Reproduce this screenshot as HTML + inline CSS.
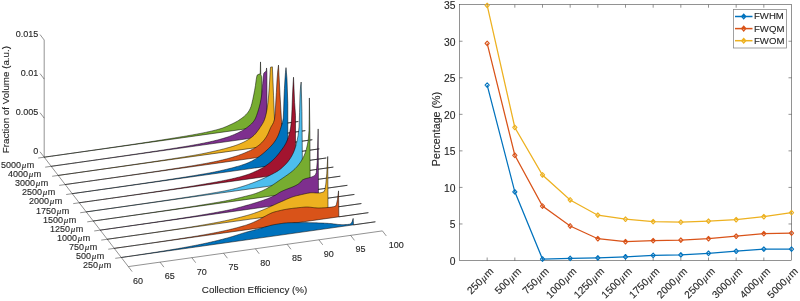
<!DOCTYPE html>
<html><head><meta charset="utf-8"><style>
html,body{margin:0;padding:0;background:#fff;width:800px;height:301px;overflow:hidden}
svg{position:absolute;left:0;top:0;will-change:transform}
text{font-family:"Liberation Sans", sans-serif;fill:#262626;stroke:#262626;stroke-width:0.12px}
.tk{font-size:9px}
.lb{font-size:9.8px}
.tr{font-size:10.3px}
.mu{font-family:"Liberation Serif", serif;font-style:italic}
.ax{stroke:#262626;stroke-width:0.5;fill:none}
</style></head><body>
<svg width="800" height="301" viewBox="0 0 800 301">
<line x1="44.20" y1="157.20" x2="44.20" y2="40.00" class="ax"/>
<line x1="44.20" y1="157.20" x2="40.00" y2="151.73" class="ax"/>
<text x="38.20" y="153.70" text-anchor="end" class="tk">0</text>
<line x1="44.20" y1="118.13" x2="40.00" y2="112.66" class="ax"/>
<text x="38.20" y="114.63" text-anchor="end" class="tk">0.005</text>
<line x1="44.20" y1="79.07" x2="40.00" y2="73.60" class="ax"/>
<text x="38.20" y="75.57" text-anchor="end" class="tk">0.01</text>
<line x1="44.20" y1="40.00" x2="40.00" y2="34.53" class="ax"/>
<text x="38.20" y="36.50" text-anchor="end" class="tk">0.015</text>
<line x1="44.20" y1="157.20" x2="128.30" y2="266.60" class="ax"/>
<line x1="128.30" y1="266.60" x2="382.42" y2="230.90" class="ax"/>
<line x1="128.30" y1="266.60" x2="132.15" y2="271.62" class="ax"/>
<text x="133.10" y="283.60" class="tk">60</text>
<line x1="160.06" y1="262.14" x2="163.92" y2="267.16" class="ax"/>
<text x="164.86" y="279.14" class="tk">65</text>
<line x1="191.83" y1="257.68" x2="195.68" y2="262.69" class="ax"/>
<text x="196.63" y="274.68" class="tk">70</text>
<line x1="223.59" y1="253.22" x2="227.45" y2="258.23" class="ax"/>
<text x="228.39" y="270.22" class="tk">75</text>
<line x1="255.36" y1="248.75" x2="259.21" y2="253.77" class="ax"/>
<text x="260.16" y="265.75" class="tk">80</text>
<line x1="287.12" y1="244.29" x2="290.98" y2="249.31" class="ax"/>
<text x="291.92" y="261.29" class="tk">85</text>
<line x1="318.89" y1="239.83" x2="322.74" y2="244.84" class="ax"/>
<text x="323.69" y="256.83" class="tk">90</text>
<line x1="350.65" y1="235.37" x2="354.51" y2="240.38" class="ax"/>
<text x="355.45" y="252.37" class="tk">95</text>
<line x1="382.42" y1="230.90" x2="386.27" y2="235.92" class="ax"/>
<text x="388.82" y="247.90" class="tk">100</text>
<line x1="44.20" y1="157.20" x2="38.16" y2="158.05" class="ax"/>
<text x="34.20" y="168.00" text-anchor="end" class="tk">5000<tspan class="mu" dx="0.7">μ</tspan><tspan dx="0.5">m</tspan></text>
<line x1="51.21" y1="166.32" x2="45.17" y2="167.16" class="ax"/>
<text x="41.21" y="177.12" text-anchor="end" class="tk">4000<tspan class="mu" dx="0.7">μ</tspan><tspan dx="0.5">m</tspan></text>
<line x1="58.22" y1="175.43" x2="52.18" y2="176.28" class="ax"/>
<text x="48.22" y="186.23" text-anchor="end" class="tk">3000<tspan class="mu" dx="0.7">μ</tspan><tspan dx="0.5">m</tspan></text>
<line x1="65.22" y1="184.55" x2="59.19" y2="185.40" class="ax"/>
<text x="55.22" y="195.35" text-anchor="end" class="tk">2500<tspan class="mu" dx="0.7">μ</tspan><tspan dx="0.5">m</tspan></text>
<line x1="72.23" y1="193.67" x2="66.20" y2="194.52" class="ax"/>
<text x="62.23" y="204.47" text-anchor="end" class="tk">2000<tspan class="mu" dx="0.7">μ</tspan><tspan dx="0.5">m</tspan></text>
<line x1="79.24" y1="202.78" x2="73.20" y2="203.63" class="ax"/>
<text x="69.24" y="213.59" text-anchor="end" class="tk">1750<tspan class="mu" dx="0.7">μ</tspan><tspan dx="0.5">m</tspan></text>
<line x1="86.25" y1="211.90" x2="80.21" y2="212.75" class="ax"/>
<text x="76.25" y="222.70" text-anchor="end" class="tk">1500<tspan class="mu" dx="0.7">μ</tspan><tspan dx="0.5">m</tspan></text>
<line x1="93.26" y1="221.02" x2="87.22" y2="221.87" class="ax"/>
<text x="83.26" y="231.82" text-anchor="end" class="tk">1250<tspan class="mu" dx="0.7">μ</tspan><tspan dx="0.5">m</tspan></text>
<line x1="100.26" y1="230.14" x2="94.23" y2="230.98" class="ax"/>
<text x="90.26" y="240.94" text-anchor="end" class="tk">1000<tspan class="mu" dx="0.7">μ</tspan><tspan dx="0.5">m</tspan></text>
<line x1="107.27" y1="239.25" x2="101.24" y2="240.10" class="ax"/>
<text x="97.27" y="250.05" text-anchor="end" class="tk">750<tspan class="mu" dx="0.7">μ</tspan><tspan dx="0.5">m</tspan></text>
<line x1="114.28" y1="248.37" x2="108.24" y2="249.22" class="ax"/>
<text x="104.28" y="259.17" text-anchor="end" class="tk">500<tspan class="mu" dx="0.7">μ</tspan><tspan dx="0.5">m</tspan></text>
<line x1="121.29" y1="257.49" x2="115.25" y2="258.33" class="ax"/>
<text x="111.29" y="268.29" text-anchor="end" class="tk">250<tspan class="mu" dx="0.7">μ</tspan><tspan dx="0.5">m</tspan></text>
<polygon points="44.20,157.18 45.00,157.07 45.81,156.95 46.61,156.84 47.42,156.72 48.22,156.61 49.03,156.50 49.83,156.38 50.63,156.27 51.44,156.15 52.24,156.04 53.05,155.92 53.85,155.81 54.65,155.70 55.46,155.58 56.26,155.47 57.07,155.35 57.87,155.24 58.68,155.12 59.48,155.01 60.28,154.90 61.09,154.78 61.89,154.67 62.70,154.55 63.50,154.44 64.30,154.32 65.11,154.21 65.91,154.09 66.72,153.98 67.52,153.86 68.33,153.75 69.13,153.63 69.93,153.52 70.74,153.40 71.54,153.29 72.35,153.17 73.15,153.06 73.95,152.94 74.76,152.83 75.56,152.71 76.37,152.60 77.17,152.48 77.98,152.37 78.78,152.25 79.58,152.14 80.39,152.02 81.19,151.91 82.00,151.79 82.80,151.67 83.60,151.56 84.41,151.44 85.21,151.33 86.02,151.21 86.82,151.10 87.63,150.98 88.43,150.86 89.23,150.75 90.04,150.63 90.84,150.52 91.65,150.40 92.45,150.29 93.25,150.17 94.06,150.05 94.86,149.94 95.67,149.82 96.47,149.71 97.28,149.59 98.08,149.47 98.88,149.36 99.69,149.24 100.49,149.12 101.30,149.01 102.10,148.89 102.90,148.77 103.71,148.66 104.51,148.54 105.32,148.42 106.12,148.31 106.93,148.19 107.73,148.07 108.53,147.96 109.34,147.84 110.14,147.72 110.95,147.61 111.75,147.49 112.56,147.37 113.36,147.26 114.17,147.14 114.97,147.02 115.78,146.90 116.58,146.78 117.39,146.67 118.19,146.55 119.00,146.43 119.80,146.31 120.61,146.19 121.41,146.08 122.21,145.96 123.02,145.84 123.82,145.72 124.63,145.60 125.43,145.48 126.24,145.36 127.04,145.24 127.85,145.12 128.65,145.01 129.46,144.89 130.26,144.77 131.07,144.65 131.87,144.53 132.68,144.41 133.48,144.29 134.29,144.17 135.09,144.05 135.89,143.92 136.70,143.80 137.50,143.68 138.31,143.56 139.11,143.44 139.92,143.32 140.72,143.20 141.53,143.08 142.33,142.95 143.14,142.83 143.94,142.71 144.75,142.59 145.55,142.47 146.36,142.34 147.16,142.22 147.97,142.10 148.77,141.97 149.58,141.85 150.38,141.73 151.18,141.60 151.99,141.48 152.79,141.36 153.60,141.23 154.40,141.11 155.21,140.98 156.01,140.86 156.82,140.73 157.62,140.61 158.43,140.48 159.23,140.36 160.04,140.23 160.84,140.10 161.65,139.98 162.45,139.85 163.26,139.72 164.06,139.60 164.86,139.47 165.67,139.34 166.47,139.21 167.28,139.09 168.08,138.96 168.89,138.83 169.69,138.70 170.50,138.57 171.30,138.44 172.11,138.31 172.91,138.18 173.72,138.05 174.52,137.92 175.33,137.79 176.13,137.66 176.94,137.53 177.74,137.40 178.54,137.27 179.35,137.13 180.15,137.00 180.97,136.86 181.80,136.73 182.62,136.59 183.44,136.46 184.26,136.32 185.08,136.18 185.90,136.04 186.72,135.90 187.54,135.76 188.36,135.62 189.18,135.48 190.00,135.33 190.82,135.19 191.64,135.05 192.46,134.90 193.28,134.75 194.10,134.61 194.92,134.46 195.75,134.31 196.57,134.15 197.39,134.00 198.21,133.85 199.03,133.69 199.85,133.53 200.66,133.38 201.47,133.22 202.29,133.06 203.10,132.89 203.91,132.73 204.73,132.56 205.54,132.39 206.35,132.22 207.17,132.05 207.98,131.87 208.79,131.69 209.61,131.51 210.42,131.32 211.23,131.13 212.05,130.94 212.86,130.75 213.67,130.55 214.49,130.34 215.30,130.13 216.11,129.92 216.93,129.70 217.74,129.48 218.55,129.25 219.36,129.02 220.18,128.78 221.00,128.52 221.82,128.25 222.64,127.97 223.46,127.67 224.28,127.35 225.10,127.02 225.92,126.68 226.74,126.33 227.56,125.97 228.38,125.60 229.20,125.22 230.03,124.84 230.85,124.47 231.67,124.08 232.49,123.70 233.31,123.30 234.13,122.90 234.95,122.48 235.77,122.05 236.59,121.60 237.41,121.13 238.23,120.64 239.05,120.12 239.87,119.56 240.72,118.96 241.57,118.36 242.41,117.73 243.26,117.08 244.11,116.39 244.95,115.65 245.80,114.83 246.65,113.93 247.50,112.92 248.34,111.78 249.19,110.46 250.04,108.93 250.96,106.64 251.88,103.41 252.80,99.40 253.72,94.97 254.58,90.49 255.44,85.52 256.23,79.49 257.03,75.30 258.08,74.58 259.14,74.11 260.20,73.85 260.52,61.91 260.84,74.77 261.73,76.64 261.79,126.63 298.32,121.50 44.20,157.20" fill="#77AC30" stroke="#000" stroke-width="0.5" stroke-linejoin="round"/>
<polygon points="51.21,166.30 52.01,166.18 52.82,166.07 53.62,165.95 54.42,165.84 55.23,165.73 56.03,165.61 56.84,165.50 57.64,165.38 58.45,165.27 59.25,165.16 60.05,165.04 60.86,164.93 61.66,164.81 62.47,164.70 63.27,164.58 64.07,164.47 64.88,164.36 65.68,164.24 66.49,164.13 67.29,164.01 68.10,163.90 68.90,163.78 69.70,163.67 70.51,163.55 71.31,163.44 72.12,163.32 72.92,163.21 73.72,163.09 74.53,162.98 75.33,162.86 76.14,162.75 76.94,162.63 77.75,162.52 78.55,162.40 79.35,162.29 80.16,162.17 80.96,162.06 81.77,161.94 82.57,161.83 83.38,161.71 84.18,161.60 84.98,161.48 85.79,161.37 86.59,161.25 87.40,161.14 88.20,161.02 89.00,160.91 89.81,160.79 90.61,160.68 91.42,160.56 92.22,160.44 93.03,160.33 93.83,160.21 94.63,160.10 95.44,159.98 96.24,159.87 97.05,159.75 97.85,159.63 98.65,159.52 99.46,159.40 100.26,159.29 101.07,159.17 101.87,159.05 102.68,158.94 103.48,158.82 104.28,158.71 105.09,158.59 105.89,158.47 106.70,158.36 107.50,158.24 108.30,158.12 109.11,158.01 109.91,157.89 110.72,157.77 111.52,157.66 112.33,157.54 113.13,157.43 113.93,157.31 114.74,157.19 115.54,157.08 116.34,156.96 117.15,156.84 117.95,156.73 118.75,156.61 119.56,156.49 120.36,156.37 121.16,156.26 121.97,156.14 122.77,156.02 123.57,155.91 124.38,155.79 125.18,155.67 125.98,155.55 126.79,155.44 127.59,155.32 128.39,155.20 129.20,155.08 130.00,154.96 130.80,154.85 131.61,154.73 132.41,154.61 133.21,154.49 134.02,154.37 134.82,154.26 135.62,154.14 136.43,154.02 137.23,153.90 138.03,153.78 138.84,153.66 139.64,153.54 140.44,153.42 141.25,153.30 142.05,153.18 142.85,153.06 143.66,152.94 144.46,152.82 145.26,152.70 146.06,152.58 146.87,152.46 147.67,152.34 148.47,152.22 149.28,152.10 150.08,151.98 150.88,151.86 151.69,151.74 152.49,151.62 153.29,151.50 154.10,151.37 154.90,151.25 155.70,151.13 156.51,151.01 157.31,150.89 158.11,150.76 158.92,150.64 159.72,150.52 160.52,150.39 161.33,150.27 162.13,150.15 162.93,150.02 163.74,149.90 164.54,149.78 165.34,149.65 166.15,149.53 166.95,149.40 167.75,149.28 168.56,149.15 169.36,149.02 170.16,148.90 170.97,148.77 171.77,148.65 172.57,148.52 173.38,148.39 174.18,148.26 174.98,148.14 175.79,148.01 176.59,147.88 177.39,147.75 178.19,147.62 179.00,147.49 179.80,147.36 180.60,147.23 181.41,147.10 182.21,146.97 183.01,146.84 183.82,146.71 184.62,146.57 185.44,146.44 186.27,146.30 187.09,146.16 187.92,146.02 188.74,145.88 189.56,145.74 190.39,145.60 191.21,145.45 192.03,145.31 192.86,145.16 193.68,145.01 194.50,144.86 195.33,144.71 196.15,144.56 196.97,144.41 197.80,144.25 198.62,144.09 199.44,143.94 200.27,143.78 201.09,143.62 201.92,143.46 202.74,143.29 203.56,143.13 204.39,142.96 205.21,142.79 206.03,142.62 206.86,142.45 207.69,142.28 208.51,142.10 209.34,141.92 210.17,141.74 211.00,141.55 211.83,141.36 212.66,141.17 213.49,140.98 214.31,140.78 215.14,140.57 215.97,140.37 216.80,140.16 217.63,139.95 218.46,139.73 219.29,139.51 220.11,139.28 220.94,139.05 221.77,138.82 222.60,138.58 223.43,138.34 224.26,138.09 225.09,137.83 225.92,137.57 226.76,137.30 227.61,137.02 228.46,136.73 229.30,136.43 230.15,136.13 231.00,135.81 231.84,135.48 232.69,135.15 233.54,134.80 234.39,134.44 235.23,134.07 236.08,133.70 236.93,133.30 237.77,132.90 238.62,132.49 239.49,132.05 240.35,131.61 241.22,131.14 242.09,130.67 242.95,130.17 243.82,129.66 244.69,129.12 245.55,128.55 246.42,127.95 247.28,127.32 248.15,126.65 248.95,126.00 249.76,125.34 250.56,124.65 251.36,123.91 252.16,123.10 252.96,122.20 253.77,121.17 254.57,120.00 255.61,118.01 256.64,115.38 257.68,112.31 258.48,109.76 259.28,106.95 260.08,103.73 260.88,99.85 261.68,95.00 262.70,83.48 263.72,73.46 264.54,72.37 265.37,71.64 266.19,71.31 266.57,67.96 266.89,72.02 267.02,136.00 305.33,130.62 51.21,166.32" fill="#7E2F8E" stroke="#000" stroke-width="0.5" stroke-linejoin="round"/>
<polygon points="58.22,175.41 59.02,175.30 59.82,175.19 60.63,175.07 61.43,174.96 62.24,174.84 63.04,174.73 63.85,174.62 64.65,174.50 65.45,174.39 66.26,174.27 67.06,174.16 67.87,174.04 68.67,173.93 69.47,173.82 70.28,173.70 71.08,173.59 71.89,173.47 72.69,173.36 73.50,173.24 74.30,173.13 75.10,173.01 75.91,172.90 76.71,172.78 77.52,172.67 78.32,172.56 79.12,172.44 79.93,172.33 80.73,172.21 81.54,172.10 82.34,171.98 83.15,171.87 83.95,171.75 84.75,171.64 85.56,171.52 86.36,171.41 87.17,171.29 87.97,171.18 88.77,171.06 89.58,170.95 90.38,170.83 91.19,170.72 91.99,170.60 92.80,170.48 93.60,170.37 94.40,170.25 95.21,170.14 96.01,170.02 96.82,169.91 97.62,169.79 98.42,169.68 99.23,169.56 100.03,169.45 100.84,169.33 101.64,169.21 102.45,169.10 103.25,168.98 104.05,168.87 104.86,168.75 105.66,168.63 106.47,168.52 107.27,168.40 108.07,168.29 108.88,168.17 109.68,168.05 110.49,167.94 111.29,167.82 112.10,167.71 112.90,167.59 113.70,167.47 114.51,167.36 115.31,167.24 116.12,167.12 116.92,167.01 117.73,166.89 118.53,166.78 119.33,166.66 120.14,166.54 120.94,166.43 121.75,166.31 122.55,166.19 123.35,166.08 124.16,165.96 124.96,165.84 125.76,165.73 126.57,165.61 127.37,165.49 128.17,165.37 128.98,165.26 129.78,165.14 130.58,165.02 131.39,164.91 132.19,164.79 132.99,164.67 133.79,164.55 134.60,164.44 135.40,164.32 136.20,164.20 137.01,164.08 137.81,163.97 138.61,163.85 139.42,163.73 140.22,163.61 141.02,163.49 141.83,163.38 142.63,163.26 143.43,163.14 144.24,163.02 145.04,162.90 145.84,162.78 146.65,162.66 147.45,162.55 148.25,162.43 149.06,162.31 149.86,162.19 150.66,162.07 151.47,161.95 152.27,161.83 153.07,161.71 153.88,161.59 154.68,161.47 155.48,161.35 156.29,161.23 157.09,161.11 157.89,160.99 158.70,160.87 159.50,160.75 160.30,160.62 161.11,160.50 161.91,160.38 162.71,160.26 163.52,160.14 164.32,160.02 165.12,159.89 165.92,159.77 166.73,159.65 167.53,159.52 168.33,159.40 169.14,159.28 169.94,159.15 170.74,159.03 171.55,158.91 172.35,158.78 173.15,158.66 173.96,158.53 174.76,158.41 175.56,158.28 176.37,158.16 177.17,158.03 177.97,157.90 178.78,157.78 179.58,157.65 180.38,157.52 181.19,157.39 181.99,157.26 182.79,157.14 183.60,157.01 184.40,156.88 185.20,156.75 186.01,156.62 186.81,156.49 187.61,156.36 188.42,156.22 189.22,156.09 190.02,155.96 190.83,155.83 191.63,155.69 192.45,155.55 193.27,155.41 194.09,155.27 194.91,155.13 195.73,154.98 196.55,154.84 197.37,154.69 198.19,154.54 199.01,154.38 199.83,154.23 200.65,154.07 201.47,153.91 202.29,153.75 203.11,153.59 203.93,153.42 204.74,153.26 205.56,153.09 206.38,152.91 207.20,152.74 208.02,152.56 208.84,152.39 209.66,152.21 210.48,152.03 211.30,151.84 212.12,151.66 212.94,151.47 213.76,151.28 214.58,151.10 215.40,150.91 216.22,150.71 217.04,150.52 217.87,150.33 218.70,150.13 219.53,149.93 220.36,149.73 221.18,149.53 222.01,149.32 222.84,149.12 223.67,148.91 224.50,148.70 225.33,148.48 226.16,148.26 226.98,148.04 227.81,147.82 228.64,147.59 229.47,147.35 230.30,147.11 231.13,146.87 231.96,146.61 232.79,146.36 233.61,146.09 234.44,145.82 235.27,145.54 236.10,145.24 236.91,144.95 237.72,144.65 238.53,144.34 239.34,144.02 240.15,143.69 240.96,143.34 241.78,142.99 242.59,142.62 243.40,142.24 244.21,141.84 245.02,141.43 245.83,141.00 246.64,140.55 247.45,140.08 248.26,139.59 249.07,139.07 249.88,138.53 250.69,137.96 251.50,137.36 252.32,136.72 253.13,136.05 253.98,135.28 254.84,134.41 255.70,133.46 256.56,132.42 257.41,131.31 258.27,130.12 259.13,128.88 259.99,127.59 260.90,126.22 261.82,124.84 262.73,123.35 263.65,121.61 264.56,119.45 265.45,116.65 266.34,112.93 267.23,108.07 267.96,102.52 268.69,95.01 269.20,88.04 269.71,80.02 270.12,72.18 270.53,67.21 271.45,67.00 272.38,66.85 273.52,95.19 274.54,120.04 274.85,145.00 312.34,139.73 58.22,175.43" fill="#EDB120" stroke="#000" stroke-width="0.5" stroke-linejoin="round"/>
<polygon points="65.22,184.53 66.03,184.42 66.83,184.30 67.64,184.19 68.44,184.08 69.24,183.96 70.05,183.85 70.85,183.73 71.66,183.62 72.46,183.51 73.27,183.39 74.07,183.28 74.87,183.16 75.68,183.05 76.48,182.93 77.29,182.82 78.09,182.71 78.90,182.59 79.70,182.48 80.50,182.36 81.31,182.25 82.11,182.13 82.92,182.02 83.72,181.90 84.52,181.79 85.33,181.67 86.13,181.56 86.94,181.44 87.74,181.33 88.55,181.22 89.35,181.10 90.15,180.99 90.96,180.87 91.76,180.76 92.57,180.64 93.37,180.53 94.17,180.41 94.98,180.30 95.78,180.18 96.59,180.07 97.39,179.95 98.20,179.83 99.00,179.72 99.80,179.60 100.61,179.49 101.41,179.37 102.22,179.26 103.02,179.14 103.82,179.03 104.63,178.91 105.43,178.80 106.24,178.68 107.04,178.56 107.85,178.45 108.65,178.33 109.45,178.22 110.26,178.10 111.06,177.99 111.87,177.87 112.67,177.75 113.47,177.64 114.28,177.52 115.08,177.41 115.89,177.29 116.69,177.17 117.50,177.06 118.30,176.94 119.10,176.82 119.91,176.71 120.71,176.59 121.52,176.48 122.32,176.36 123.12,176.24 123.93,176.13 124.73,176.01 125.54,175.89 126.34,175.78 127.15,175.66 127.95,175.54 128.75,175.43 129.56,175.31 130.36,175.19 131.16,175.08 131.97,174.96 132.77,174.84 133.57,174.72 134.38,174.61 135.18,174.49 135.98,174.37 136.79,174.26 137.59,174.14 138.39,174.02 139.20,173.90 140.00,173.79 140.80,173.67 141.61,173.55 142.41,173.43 143.21,173.31 144.02,173.20 144.82,173.08 145.62,172.96 146.43,172.84 147.23,172.72 148.03,172.60 148.84,172.48 149.64,172.37 150.44,172.25 151.25,172.13 152.05,172.01 152.85,171.89 153.65,171.77 154.46,171.65 155.26,171.53 156.06,171.41 156.87,171.29 157.67,171.17 158.47,171.05 159.28,170.93 160.08,170.81 160.88,170.69 161.69,170.56 162.49,170.44 163.29,170.32 164.10,170.20 164.90,170.08 165.70,169.96 166.51,169.83 167.31,169.71 168.11,169.59 168.92,169.47 169.72,169.34 170.52,169.22 171.33,169.10 172.13,168.97 172.93,168.85 173.74,168.72 174.54,168.60 175.34,168.48 176.15,168.35 176.95,168.22 177.75,168.10 178.56,167.97 179.36,167.85 180.16,167.72 180.97,167.59 181.77,167.47 182.57,167.34 183.38,167.21 184.18,167.08 184.98,166.96 185.78,166.83 186.59,166.70 187.39,166.57 188.19,166.44 189.00,166.31 189.80,166.18 190.60,166.05 191.41,165.91 192.21,165.78 193.01,165.65 193.82,165.52 194.62,165.38 195.42,165.25 196.23,165.12 197.03,164.98 197.83,164.84 198.64,164.71 199.46,164.57 200.28,164.43 201.09,164.28 201.91,164.14 202.73,163.99 203.55,163.85 204.37,163.70 205.19,163.55 206.01,163.40 206.83,163.24 207.65,163.09 208.47,162.93 209.29,162.77 210.11,162.61 210.93,162.45 211.74,162.28 212.56,162.11 213.38,161.94 214.20,161.77 215.02,161.60 215.84,161.42 216.66,161.24 217.48,161.06 218.30,160.88 219.12,160.69 219.94,160.51 220.76,160.32 221.57,160.12 222.39,159.93 223.21,159.73 224.03,159.53 224.85,159.32 225.67,159.11 226.49,158.90 227.31,158.69 228.13,158.48 228.95,158.26 229.77,158.04 230.60,157.81 231.43,157.57 232.27,157.33 233.10,157.08 233.94,156.82 234.77,156.56 235.60,156.29 236.44,156.02 237.27,155.74 238.11,155.45 238.94,155.15 239.77,154.85 240.61,154.54 241.44,154.22 242.27,153.89 243.11,153.56 243.91,153.23 244.72,152.90 245.52,152.57 246.33,152.22 247.13,151.87 247.94,151.52 248.74,151.15 249.55,150.77 250.35,150.39 251.16,149.99 251.96,149.57 252.76,149.15 253.57,148.70 254.37,148.24 255.18,147.76 255.98,147.25 256.79,146.72 257.59,146.16 258.40,145.57 259.20,144.95 260.01,144.29 260.84,143.55 261.67,142.75 262.51,141.87 263.34,140.92 264.18,139.89 265.01,138.78 265.84,137.56 266.68,136.25 267.66,134.43 268.65,132.29 269.63,129.98 270.62,127.70 271.59,125.90 272.55,124.37 273.52,122.42 274.49,119.15 275.06,113.65 275.64,104.99 276.33,92.50 277.03,80.00 277.76,70.84 278.49,65.09 280.02,94.98 281.48,119.97 282.50,139.03 283.13,153.94 319.34,148.85 65.22,184.55" fill="#D95319" stroke="#000" stroke-width="0.5" stroke-linejoin="round"/>
<polygon points="72.23,193.65 73.04,193.53 73.84,193.42 74.64,193.30 75.45,193.19 76.25,193.08 77.06,192.96 77.86,192.85 78.67,192.73 79.47,192.62 80.27,192.50 81.08,192.39 81.88,192.27 82.69,192.16 83.49,192.04 84.29,191.93 85.10,191.81 85.90,191.70 86.71,191.58 87.51,191.47 88.32,191.35 89.12,191.24 89.92,191.12 90.73,191.01 91.53,190.89 92.34,190.78 93.14,190.66 93.94,190.55 94.75,190.43 95.55,190.32 96.36,190.20 97.16,190.09 97.97,189.97 98.77,189.86 99.57,189.74 100.38,189.62 101.18,189.51 101.99,189.39 102.79,189.28 103.59,189.16 104.40,189.05 105.20,188.93 106.01,188.81 106.81,188.70 107.62,188.58 108.42,188.47 109.22,188.35 110.03,188.23 110.83,188.12 111.64,188.00 112.44,187.89 113.25,187.77 114.05,187.65 114.85,187.54 115.66,187.42 116.46,187.30 117.27,187.19 118.07,187.07 118.87,186.95 119.68,186.84 120.48,186.72 121.29,186.60 122.09,186.49 122.90,186.37 123.70,186.25 124.50,186.14 125.31,186.02 126.11,185.90 126.92,185.79 127.72,185.67 128.52,185.55 129.33,185.43 130.13,185.32 130.94,185.20 131.74,185.08 132.55,184.96 133.35,184.85 134.15,184.73 134.96,184.61 135.76,184.49 136.57,184.38 137.37,184.26 138.17,184.14 138.98,184.02 139.78,183.90 140.58,183.79 141.38,183.67 142.19,183.55 142.99,183.43 143.79,183.31 144.60,183.19 145.40,183.08 146.20,182.96 147.01,182.84 147.81,182.72 148.61,182.60 149.42,182.48 150.22,182.36 151.02,182.24 151.83,182.12 152.63,182.00 153.43,181.88 154.24,181.77 155.04,181.65 155.84,181.53 156.65,181.41 157.45,181.28 158.25,181.16 159.06,181.04 159.86,180.92 160.66,180.80 161.47,180.68 162.27,180.56 163.07,180.44 163.88,180.32 164.68,180.20 165.48,180.08 166.29,179.95 167.09,179.83 167.89,179.71 168.70,179.59 169.50,179.46 170.30,179.34 171.11,179.22 171.91,179.09 172.71,178.97 173.51,178.85 174.32,178.72 175.12,178.60 175.92,178.48 176.73,178.35 177.53,178.23 178.33,178.10 179.14,177.98 179.94,177.85 180.74,177.72 181.55,177.60 182.35,177.47 183.15,177.34 183.96,177.22 184.76,177.09 185.56,176.96 186.37,176.83 187.17,176.71 187.97,176.58 188.78,176.45 189.58,176.32 190.38,176.19 191.19,176.06 191.99,175.93 192.79,175.80 193.60,175.66 194.40,175.53 195.20,175.40 196.01,175.27 196.81,175.13 197.61,175.00 198.42,174.86 199.22,174.73 200.02,174.59 200.83,174.46 201.63,174.32 202.43,174.18 203.24,174.04 204.04,173.91 204.84,173.77 205.65,173.63 206.46,173.48 207.28,173.33 208.10,173.19 208.92,173.04 209.74,172.88 210.56,172.73 211.38,172.57 212.20,172.42 213.02,172.25 213.84,172.09 214.66,171.93 215.48,171.76 216.30,171.59 217.12,171.42 217.94,171.25 218.76,171.07 219.58,170.89 220.40,170.71 221.22,170.53 222.04,170.34 222.86,170.15 223.68,169.96 224.50,169.77 225.32,169.58 226.14,169.38 226.96,169.18 227.78,168.98 228.60,168.78 229.42,168.57 230.24,168.36 231.06,168.16 231.88,167.94 232.70,167.73 233.52,167.51 234.35,167.30 235.17,167.07 235.99,166.85 236.81,166.62 237.63,166.38 238.46,166.14 239.28,165.90 240.10,165.65 240.92,165.39 241.74,165.13 242.57,164.86 243.39,164.58 244.21,164.29 245.03,163.99 245.84,163.69 246.65,163.37 247.47,163.04 248.28,162.69 249.09,162.33 249.90,161.96 250.71,161.57 251.52,161.17 252.33,160.75 253.14,160.31 253.95,159.86 254.76,159.39 255.57,158.90 256.38,158.40 257.19,157.87 258.00,157.33 258.81,156.76 259.63,156.18 260.44,155.58 261.25,154.95 262.06,154.31 262.87,153.65 263.68,152.97 264.49,152.27 265.30,151.54 266.11,150.81 266.93,150.07 267.74,149.32 268.55,148.55 269.37,147.76 270.18,146.94 270.99,146.09 271.81,145.20 272.62,144.26 273.43,143.25 274.24,142.17 275.06,141.01 275.87,139.74 276.68,138.36 277.50,136.83 278.43,134.77 279.37,132.29 280.31,129.45 281.25,126.30 282.26,123.30 283.28,118.02 283.63,110.11 283.98,98.92 284.45,88.45 284.93,79.99 285.47,72.54 286.01,67.64 286.96,78.50 287.79,103.39 287.92,163.37 326.35,157.97 72.23,193.67" fill="#0072BD" stroke="#000" stroke-width="0.5" stroke-linejoin="round"/>
<polygon points="79.24,202.76 80.04,202.65 80.85,202.54 81.65,202.42 82.46,202.31 83.26,202.19 84.07,202.08 84.87,201.96 85.67,201.85 86.48,201.74 87.28,201.62 88.09,201.51 88.89,201.39 89.69,201.28 90.50,201.16 91.30,201.05 92.11,200.93 92.91,200.82 93.72,200.70 94.52,200.59 95.32,200.47 96.13,200.36 96.93,200.24 97.74,200.13 98.54,200.01 99.34,199.90 100.15,199.78 100.95,199.67 101.76,199.55 102.56,199.44 103.37,199.32 104.17,199.21 104.97,199.09 105.78,198.97 106.58,198.86 107.39,198.74 108.19,198.63 108.99,198.51 109.80,198.40 110.60,198.28 111.41,198.17 112.21,198.05 113.02,197.93 113.82,197.82 114.62,197.70 115.43,197.59 116.23,197.47 117.04,197.35 117.84,197.24 118.64,197.12 119.45,197.00 120.25,196.89 121.06,196.77 121.86,196.66 122.67,196.54 123.47,196.42 124.27,196.31 125.08,196.19 125.88,196.07 126.69,195.96 127.49,195.84 128.29,195.72 129.10,195.61 129.90,195.49 130.71,195.37 131.51,195.25 132.32,195.14 133.12,195.02 133.92,194.90 134.73,194.79 135.53,194.67 136.34,194.55 137.14,194.43 137.94,194.32 138.75,194.20 139.55,194.08 140.36,193.96 141.16,193.85 141.97,193.73 142.77,193.61 143.57,193.49 144.38,193.37 145.18,193.26 145.98,193.14 146.79,193.02 147.59,192.90 148.39,192.78 149.20,192.66 150.00,192.55 150.80,192.43 151.61,192.31 152.41,192.19 153.21,192.07 154.02,191.95 154.82,191.83 155.62,191.71 156.43,191.59 157.23,191.47 158.03,191.35 158.84,191.23 159.64,191.11 160.44,190.99 161.24,190.87 162.05,190.75 162.85,190.63 163.65,190.51 164.46,190.39 165.26,190.27 166.06,190.15 166.87,190.03 167.67,189.91 168.47,189.78 169.28,189.66 170.08,189.54 170.88,189.42 171.69,189.29 172.49,189.17 173.29,189.05 174.10,188.93 174.90,188.80 175.70,188.68 176.51,188.55 177.31,188.43 178.11,188.31 178.92,188.18 179.72,188.06 180.52,187.93 181.33,187.81 182.13,187.68 182.93,187.56 183.74,187.43 184.54,187.30 185.34,187.18 186.15,187.05 186.95,186.92 187.75,186.80 188.56,186.67 189.36,186.54 190.16,186.41 190.97,186.28 191.77,186.15 192.57,186.02 193.37,185.89 194.18,185.76 194.98,185.63 195.78,185.50 196.59,185.37 197.39,185.24 198.19,185.11 199.00,184.98 199.80,184.84 200.60,184.71 201.41,184.57 202.21,184.44 203.01,184.31 203.82,184.17 204.62,184.03 205.42,183.90 206.23,183.76 207.03,183.62 207.83,183.48 208.64,183.35 209.44,183.21 210.24,183.07 211.05,182.93 211.85,182.78 212.65,182.64 213.47,182.50 214.28,182.35 215.10,182.20 215.91,182.06 216.73,181.91 217.54,181.76 218.35,181.60 219.17,181.45 219.98,181.29 220.80,181.14 221.61,180.98 222.43,180.82 223.24,180.66 224.06,180.49 224.87,180.33 225.68,180.16 226.50,179.99 227.31,179.82 228.13,179.65 228.94,179.47 229.76,179.29 230.57,179.11 231.39,178.93 232.20,178.75 233.02,178.56 233.83,178.37 234.64,178.17 235.46,177.98 236.27,177.78 237.09,177.57 237.90,177.37 238.72,177.16 239.53,176.95 240.35,176.73 241.16,176.51 241.97,176.28 242.79,176.05 243.60,175.82 244.42,175.58 245.23,175.33 246.04,175.08 246.85,174.81 247.66,174.53 248.47,174.24 249.29,173.94 250.10,173.64 250.91,173.32 251.72,172.99 252.53,172.65 253.34,172.31 254.15,171.96 254.96,171.60 255.82,171.21 256.67,170.82 257.53,170.41 258.38,170.00 259.24,169.57 260.10,169.12 260.95,168.66 261.81,168.19 262.66,167.70 263.52,167.19 264.37,166.66 265.23,166.11 266.08,165.54 266.92,164.95 267.76,164.35 268.59,163.72 269.43,163.06 270.27,162.38 271.10,161.67 271.94,160.93 272.78,160.16 273.62,159.36 274.45,158.52 275.29,157.65 276.13,156.74 276.96,155.79 277.80,154.80 278.64,153.76 279.48,152.67 280.31,151.54 281.19,150.33 282.08,149.13 282.96,147.91 283.84,146.63 284.72,145.24 285.61,143.70 286.49,141.93 287.37,139.87 288.25,137.42 289.06,134.82 289.87,131.58 290.68,126.98 291.49,120.00 292.00,109.22 292.51,95.02 293.02,84.90 293.53,77.18 294.61,102.53 295.50,115.40 295.56,172.40 333.36,167.09 79.24,202.78" fill="#A2142F" stroke="#000" stroke-width="0.5" stroke-linejoin="round"/>
<polygon points="86.25,211.88 87.05,211.77 87.86,211.65 88.66,211.54 89.46,211.42 90.27,211.31 91.07,211.20 91.88,211.08 92.68,210.97 93.49,210.85 94.29,210.74 95.09,210.62 95.90,210.51 96.70,210.39 97.51,210.28 98.31,210.16 99.11,210.05 99.92,209.93 100.72,209.82 101.53,209.70 102.33,209.59 103.14,209.47 103.94,209.36 104.74,209.24 105.55,209.13 106.35,209.01 107.16,208.90 107.96,208.78 108.76,208.67 109.57,208.55 110.37,208.44 111.18,208.32 111.98,208.21 112.79,208.09 113.59,207.97 114.39,207.86 115.20,207.74 116.00,207.63 116.81,207.51 117.61,207.40 118.42,207.28 119.22,207.16 120.02,207.05 120.83,206.93 121.63,206.82 122.44,206.70 123.24,206.58 124.04,206.47 124.85,206.35 125.65,206.24 126.46,206.12 127.26,206.00 128.07,205.89 128.87,205.77 129.67,205.65 130.48,205.54 131.28,205.42 132.09,205.30 132.89,205.19 133.69,205.07 134.50,204.95 135.30,204.84 136.11,204.72 136.91,204.60 137.72,204.49 138.52,204.37 139.32,204.25 140.13,204.14 140.93,204.02 141.74,203.90 142.54,203.78 143.34,203.67 144.15,203.55 144.95,203.43 145.76,203.32 146.56,203.20 147.37,203.08 148.17,202.96 148.97,202.84 149.78,202.73 150.58,202.61 151.38,202.49 152.19,202.37 152.99,202.26 153.79,202.14 154.60,202.02 155.40,201.90 156.20,201.78 157.01,201.67 157.81,201.55 158.61,201.43 159.42,201.31 160.22,201.19 161.02,201.07 161.83,200.96 162.63,200.84 163.43,200.72 164.24,200.60 165.04,200.48 165.84,200.36 166.65,200.24 167.45,200.12 168.25,200.00 169.06,199.88 169.86,199.76 170.66,199.64 171.47,199.52 172.27,199.40 173.07,199.28 173.88,199.16 174.68,199.04 175.48,198.92 176.29,198.80 177.09,198.68 177.89,198.56 178.70,198.44 179.50,198.32 180.30,198.20 181.10,198.08 181.91,197.95 182.71,197.83 183.51,197.71 184.32,197.59 185.12,197.46 185.92,197.34 186.73,197.22 187.53,197.10 188.33,196.97 189.14,196.85 189.94,196.72 190.74,196.60 191.55,196.48 192.35,196.35 193.15,196.23 193.96,196.10 194.76,195.97 195.56,195.85 196.37,195.72 197.17,195.60 197.97,195.47 198.78,195.34 199.58,195.21 200.38,195.09 201.19,194.96 201.99,194.83 202.79,194.70 203.60,194.57 204.40,194.44 205.20,194.31 206.01,194.18 206.81,194.05 207.61,193.91 208.42,193.78 209.22,193.65 210.02,193.52 210.83,193.38 211.63,193.25 212.43,193.11 213.23,192.97 214.04,192.84 214.84,192.70 215.64,192.56 216.45,192.42 217.25,192.28 218.05,192.14 218.86,192.00 219.66,191.86 220.46,191.72 221.27,191.57 222.07,191.42 222.87,191.27 223.67,191.11 224.48,190.95 225.28,190.79 226.08,190.63 226.89,190.46 227.69,190.29 228.49,190.12 229.29,189.94 230.10,189.76 230.90,189.57 231.70,189.39 232.51,189.19 233.31,189.00 234.11,188.80 234.91,188.59 235.72,188.38 236.52,188.17 237.32,187.95 238.13,187.73 238.93,187.50 239.73,187.26 240.53,187.03 241.34,186.79 242.14,186.54 242.94,186.29 243.74,186.03 244.55,185.77 245.35,185.50 246.15,185.23 246.96,184.95 247.76,184.67 248.56,184.39 249.36,184.10 250.17,183.81 250.97,183.51 251.77,183.22 252.58,182.91 253.38,182.61 254.18,182.30 254.98,182.00 255.80,181.68 256.62,181.36 257.43,181.04 258.25,180.70 259.06,180.37 259.88,180.03 260.69,179.68 261.51,179.32 262.33,178.96 263.14,178.60 263.96,178.23 264.77,177.85 265.59,177.46 266.41,177.07 267.22,176.68 268.04,176.27 268.85,175.86 269.67,175.44 270.49,175.02 271.31,174.59 272.14,174.16 272.96,173.73 273.79,173.29 274.61,172.85 275.44,172.40 276.27,171.92 277.09,171.43 277.92,170.91 278.74,170.36 279.68,169.68 280.62,168.96 281.56,168.17 282.49,167.33 283.33,166.55 284.16,165.75 285.00,164.91 285.83,164.05 286.67,163.13 287.51,162.17 288.34,161.14 289.18,160.03 290.01,158.84 290.85,157.54 291.68,156.11 292.52,154.54 293.36,152.81 294.31,150.52 295.26,147.76 296.21,144.41 297.17,140.27 298.12,135.44 299.07,127.00 299.55,112.49 300.03,94.97 300.60,86.07 301.17,82.01 301.93,111.60 302.57,181.51 340.37,176.20 86.25,211.90" fill="#4DBEEE" stroke="#000" stroke-width="0.5" stroke-linejoin="round"/>
<polygon points="93.26,221.00 94.06,220.88 94.86,220.77 95.67,220.66 96.47,220.54 97.28,220.43 98.08,220.31 98.89,220.20 99.69,220.08 100.49,219.97 101.30,219.86 102.10,219.74 102.91,219.63 103.71,219.51 104.51,219.40 105.32,219.28 106.12,219.17 106.93,219.05 107.73,218.94 108.54,218.82 109.34,218.71 110.14,218.59 110.95,218.48 111.75,218.36 112.56,218.25 113.36,218.13 114.16,218.02 114.97,217.90 115.77,217.79 116.58,217.67 117.38,217.56 118.19,217.44 118.99,217.33 119.79,217.21 120.60,217.10 121.40,216.98 122.21,216.86 123.01,216.75 123.81,216.63 124.62,216.52 125.42,216.40 126.23,216.29 127.03,216.17 127.84,216.05 128.64,215.94 129.44,215.82 130.25,215.71 131.05,215.59 131.86,215.47 132.66,215.36 133.46,215.24 134.27,215.12 135.07,215.01 135.88,214.89 136.68,214.78 137.49,214.66 138.29,214.54 139.09,214.43 139.90,214.31 140.70,214.19 141.51,214.07 142.31,213.96 143.11,213.84 143.92,213.72 144.72,213.61 145.53,213.49 146.33,213.37 147.14,213.26 147.94,213.14 148.74,213.02 149.55,212.90 150.35,212.79 151.16,212.67 151.96,212.55 152.77,212.43 153.57,212.32 154.37,212.20 155.18,212.08 155.98,211.96 156.79,211.84 157.59,211.73 158.39,211.61 159.20,211.49 160.00,211.37 160.81,211.25 161.61,211.13 162.42,211.02 163.22,210.90 164.02,210.78 164.83,210.66 165.63,210.54 166.44,210.42 167.24,210.30 168.04,210.18 168.85,210.06 169.65,209.94 170.46,209.82 171.26,209.70 172.07,209.58 172.87,209.46 173.67,209.34 174.48,209.22 175.28,209.10 176.09,208.98 176.89,208.86 177.69,208.74 178.50,208.61 179.30,208.49 180.11,208.37 180.91,208.25 181.72,208.13 182.52,208.00 183.32,207.88 184.13,207.76 184.93,207.64 185.74,207.51 186.54,207.39 187.34,207.26 188.15,207.14 188.95,207.02 189.76,206.89 190.56,206.77 191.37,206.64 192.17,206.52 192.97,206.39 193.78,206.26 194.58,206.14 195.39,206.01 196.19,205.88 196.99,205.76 197.80,205.63 198.60,205.50 199.41,205.37 200.21,205.25 201.02,205.12 201.82,204.99 202.62,204.86 203.43,204.73 204.23,204.60 205.04,204.46 205.84,204.33 206.64,204.20 207.45,204.07 208.25,203.94 209.06,203.80 209.86,203.67 210.67,203.53 211.47,203.40 212.27,203.26 213.08,203.13 213.88,202.99 214.69,202.85 215.49,202.71 216.30,202.57 217.10,202.43 217.90,202.29 218.71,202.15 219.51,202.01 220.32,201.87 221.14,201.72 221.97,201.57 222.79,201.42 223.62,201.26 224.45,201.10 225.27,200.94 226.10,200.78 226.92,200.62 227.75,200.45 228.57,200.28 229.40,200.10 230.23,199.93 231.05,199.75 231.88,199.57 232.70,199.39 233.53,199.20 234.36,199.01 235.18,198.82 236.01,198.63 236.83,198.43 237.66,198.23 238.49,198.03 239.31,197.83 240.14,197.63 240.96,197.43 241.79,197.22 242.62,197.01 243.44,196.80 244.27,196.60 245.09,196.39 245.92,196.18 246.74,195.97 247.57,195.77 248.40,195.56 249.22,195.35 250.05,195.13 250.87,194.91 251.70,194.68 252.53,194.44 253.34,194.20 254.15,193.94 254.97,193.68 255.78,193.40 256.60,193.12 257.41,192.82 258.23,192.51 259.04,192.19 259.85,191.86 260.67,191.51 261.48,191.16 262.30,190.79 263.11,190.41 263.93,190.01 264.74,189.61 265.56,189.18 266.37,188.75 267.18,188.30 268.00,187.84 268.81,187.37 269.63,186.89 270.44,186.39 271.26,185.88 272.07,185.36 272.88,184.83 273.70,184.29 274.51,183.74 275.33,183.19 276.14,182.63 276.96,182.07 277.77,181.50 278.58,180.93 279.40,180.37 280.22,179.80 281.05,179.23 281.88,178.67 282.70,178.11 283.53,177.55 284.35,176.98 285.18,176.42 286.01,175.85 286.83,175.28 287.66,174.70 288.48,174.10 289.31,173.50 290.14,172.88 290.96,172.24 291.79,171.58 292.61,170.89 293.44,170.18 294.26,169.43 295.09,168.64 295.92,167.81 296.74,166.93 297.57,166.00 298.39,165.00 299.22,163.94 300.05,162.82 300.87,161.60 301.70,160.28 302.52,158.82 303.35,157.20 304.18,155.39 305.23,152.76 306.29,149.48 307.35,144.94 308.18,140.69 309.00,130.71 309.19,119.54 309.39,97.96 309.89,130.58 310.21,190.54 347.38,185.32 93.26,221.02" fill="#77AC30" stroke="#000" stroke-width="0.5" stroke-linejoin="round"/>
<polygon points="100.26,230.12 101.07,230.00 101.87,229.89 102.68,229.77 103.48,229.66 104.28,229.54 105.09,229.43 105.89,229.32 106.70,229.20 107.50,229.09 108.31,228.97 109.11,228.86 109.91,228.74 110.72,228.63 111.52,228.51 112.33,228.40 113.13,228.28 113.94,228.17 114.74,228.05 115.54,227.94 116.35,227.82 117.15,227.71 117.96,227.59 118.76,227.48 119.56,227.36 120.37,227.25 121.17,227.13 121.98,227.02 122.78,226.90 123.59,226.78 124.39,226.67 125.19,226.55 126.00,226.44 126.80,226.32 127.61,226.21 128.41,226.09 129.21,225.97 130.02,225.86 130.82,225.74 131.63,225.62 132.43,225.51 133.24,225.39 134.04,225.28 134.84,225.16 135.65,225.04 136.45,224.93 137.26,224.81 138.06,224.69 138.86,224.57 139.67,224.46 140.47,224.34 141.28,224.22 142.08,224.11 142.89,223.99 143.69,223.87 144.49,223.75 145.30,223.64 146.10,223.52 146.91,223.40 147.71,223.28 148.51,223.17 149.32,223.05 150.12,222.93 150.93,222.81 151.73,222.69 152.54,222.58 153.34,222.46 154.14,222.34 154.95,222.22 155.75,222.10 156.56,221.98 157.36,221.86 158.16,221.75 158.97,221.63 159.77,221.51 160.58,221.39 161.38,221.27 162.19,221.15 162.99,221.03 163.79,220.91 164.60,220.79 165.40,220.67 166.21,220.55 167.01,220.43 167.81,220.31 168.62,220.19 169.42,220.07 170.23,219.95 171.03,219.83 171.84,219.71 172.64,219.59 173.44,219.46 174.25,219.34 175.05,219.22 175.86,219.10 176.66,218.97 177.47,218.85 178.27,218.73 179.07,218.60 179.88,218.48 180.68,218.36 181.49,218.23 182.29,218.11 183.09,217.98 183.90,217.86 184.70,217.73 185.51,217.60 186.31,217.48 187.12,217.35 187.92,217.23 188.72,217.10 189.53,216.97 190.33,216.84 191.14,216.71 191.94,216.58 192.74,216.46 193.55,216.33 194.35,216.20 195.16,216.06 195.96,215.93 196.77,215.80 197.57,215.67 198.37,215.54 199.18,215.40 199.98,215.27 200.79,215.14 201.59,215.00 202.39,214.87 203.20,214.73 204.00,214.60 204.81,214.46 205.61,214.32 206.42,214.18 207.22,214.04 208.02,213.90 208.83,213.76 209.63,213.62 210.44,213.48 211.24,213.34 212.04,213.19 212.85,213.05 213.65,212.91 214.46,212.76 215.26,212.61 216.07,212.46 216.87,212.32 217.67,212.17 218.48,212.02 219.28,211.86 220.09,211.71 220.89,211.56 221.69,211.40 222.50,211.25 223.30,211.09 224.11,210.93 224.91,210.77 225.72,210.61 226.52,210.45 227.32,210.29 228.13,210.12 228.94,209.95 229.75,209.77 230.56,209.59 231.37,209.41 232.18,209.22 232.98,209.03 233.79,208.84 234.60,208.64 235.41,208.43 236.22,208.23 237.03,208.02 237.84,207.80 238.64,207.59 239.45,207.37 240.26,207.15 241.07,206.92 241.88,206.70 242.69,206.47 243.50,206.24 244.30,206.01 245.11,205.79 245.91,205.56 246.72,205.33 247.52,205.11 248.32,204.88 249.12,204.65 249.93,204.41 250.73,204.18 251.53,203.95 252.33,203.71 253.14,203.47 253.94,203.23 254.74,202.99 255.54,202.75 256.35,202.50 257.15,202.25 257.95,202.00 258.75,201.75 259.56,201.49 260.36,201.23 261.16,200.96 261.96,200.69 262.77,200.42 263.57,200.14 264.37,199.85 265.17,199.56 265.98,199.27 266.78,198.96 267.58,198.65 268.38,198.33 269.19,198.01 269.99,197.67 270.79,197.32 271.59,196.97 272.40,196.60 273.20,196.22 274.00,195.83 274.80,195.42 275.61,195.00 276.50,194.48 277.39,193.90 278.28,193.29 279.16,192.70 280.05,192.18 280.87,191.76 281.70,191.36 282.52,190.97 283.34,190.60 284.16,190.25 284.98,189.90 285.80,189.57 286.62,189.25 287.44,188.94 288.26,188.62 289.08,188.31 289.90,188.00 290.72,187.69 291.54,187.37 292.36,187.04 293.18,186.69 294.00,186.33 294.82,185.95 295.65,185.55 296.47,185.12 297.29,184.65 298.11,184.15 298.93,183.61 299.75,183.01 300.64,182.05 301.53,180.86 302.42,180.00 303.27,179.56 304.12,179.19 304.98,178.87 305.83,178.59 306.68,178.34 307.54,178.11 308.39,177.90 309.24,177.68 310.09,177.45 310.95,177.19 311.80,176.89 312.65,176.55 313.51,176.14 314.36,175.66 315.31,174.72 316.27,172.79 317.22,162.09 318.17,128.92 318.49,199.48 354.38,194.44 100.26,230.14" fill="#7E2F8E" stroke="#000" stroke-width="0.5" stroke-linejoin="round"/>
<polygon points="107.27,239.23 108.08,239.12 108.88,239.01 109.68,238.89 110.49,238.78 111.29,238.67 112.10,238.55 112.90,238.44 113.71,238.33 114.51,238.21 115.31,238.10 116.12,237.99 116.92,237.87 117.73,237.76 118.53,237.64 119.33,237.53 120.14,237.42 120.94,237.30 121.75,237.19 122.55,237.07 123.36,236.96 124.16,236.84 124.96,236.73 125.77,236.61 126.57,236.50 127.38,236.38 128.18,236.27 128.98,236.15 129.79,236.04 130.59,235.92 131.40,235.81 132.20,235.69 133.01,235.58 133.81,235.46 134.61,235.35 135.42,235.23 136.22,235.12 137.03,235.00 137.83,234.89 138.63,234.77 139.44,234.65 140.24,234.54 141.05,234.42 141.85,234.31 142.66,234.19 143.46,234.07 144.26,233.96 145.07,233.84 145.87,233.72 146.68,233.61 147.48,233.49 148.29,233.37 149.09,233.26 149.89,233.14 150.70,233.02 151.50,232.91 152.31,232.79 153.11,232.67 153.91,232.56 154.72,232.44 155.52,232.32 156.33,232.20 157.13,232.09 157.94,231.97 158.74,231.85 159.54,231.73 160.35,231.62 161.15,231.50 161.96,231.38 162.76,231.26 163.56,231.14 164.37,231.03 165.17,230.91 165.98,230.79 166.78,230.67 167.59,230.55 168.39,230.43 169.19,230.32 170.00,230.20 170.80,230.08 171.60,229.96 172.41,229.84 173.21,229.72 174.01,229.60 174.81,229.48 175.62,229.36 176.42,229.24 177.22,229.12 178.02,229.00 178.83,228.88 179.63,228.76 180.43,228.63 181.23,228.51 182.04,228.39 182.84,228.26 183.64,228.14 184.44,228.02 185.25,227.89 186.05,227.77 186.85,227.64 187.65,227.51 188.46,227.39 189.26,227.26 190.06,227.13 190.86,227.01 191.67,226.88 192.47,226.75 193.27,226.62 194.07,226.49 194.88,226.36 195.68,226.22 196.48,226.09 197.28,225.96 198.09,225.83 198.89,225.69 199.69,225.56 200.49,225.42 201.30,225.28 202.10,225.15 202.90,225.01 203.70,224.87 204.51,224.73 205.31,224.59 206.11,224.45 206.91,224.31 207.72,224.16 208.52,224.02 209.32,223.87 210.12,223.73 210.93,223.58 211.73,223.43 212.53,223.28 213.33,223.13 214.14,222.98 214.94,222.83 215.74,222.67 216.54,222.52 217.35,222.36 218.15,222.20 218.95,222.05 219.75,221.89 220.56,221.72 221.36,221.56 222.16,221.40 222.96,221.23 223.77,221.06 224.57,220.89 225.37,220.72 226.17,220.55 226.98,220.38 227.78,220.20 228.58,220.02 229.38,219.84 230.19,219.66 230.99,219.48 231.79,219.30 232.59,219.11 233.40,218.92 234.20,218.73 235.00,218.54 235.80,218.35 236.61,218.15 237.41,217.95 238.21,217.75 239.01,217.55 239.82,217.35 240.62,217.14 241.42,216.93 242.22,216.72 243.03,216.51 243.83,216.30 244.63,216.08 245.43,215.86 246.24,215.64 247.04,215.42 247.86,215.19 248.68,214.95 249.50,214.71 250.33,214.46 251.15,214.20 251.97,213.94 252.79,213.68 253.62,213.41 254.44,213.13 255.26,212.85 256.08,212.56 256.90,212.26 257.73,211.96 258.55,211.65 259.37,211.34 260.19,211.02 261.01,210.70 261.84,210.37 262.66,210.03 263.48,209.69 264.30,209.34 265.13,208.99 265.95,208.63 266.77,208.27 267.59,207.90 268.41,207.53 269.24,207.16 270.06,206.78 270.88,206.40 271.70,206.02 272.52,205.64 273.35,205.26 274.17,204.87 274.99,204.49 275.84,204.10 276.69,203.70 277.53,203.31 278.38,202.92 279.23,202.54 280.07,202.18 280.88,201.83 281.68,201.48 282.48,201.13 283.29,200.77 284.09,200.41 284.89,200.05 285.70,199.69 286.50,199.34 287.30,198.99 288.11,198.64 288.91,198.31 289.72,197.98 290.52,197.66 291.32,197.36 292.13,197.08 292.93,196.81 293.73,196.56 294.59,196.31 295.46,196.07 296.32,195.84 297.18,195.62 298.04,195.41 298.91,195.21 299.77,195.01 300.61,194.81 301.46,194.62 302.31,194.42 303.16,194.22 304.00,194.03 304.85,193.84 305.70,193.65 306.54,193.47 307.39,193.31 308.24,193.15 309.09,193.01 309.93,192.88 310.78,192.79 311.63,192.75 312.47,192.75 313.32,192.78 314.17,192.83 315.02,192.88 315.86,192.94 316.71,192.98 317.56,193.00 318.40,192.99 319.25,192.95 320.10,192.85 321.05,192.68 322.00,192.43 322.96,192.11 323.91,191.72 324.86,189.67 325.82,184.07 326.77,173.69 327.72,156.48 328.04,208.24 361.39,203.55 107.27,239.25" fill="#EDB120" stroke="#000" stroke-width="0.5" stroke-linejoin="round"/>
<polygon points="114.28,248.35 115.08,248.24 115.88,248.12 116.68,248.01 117.49,247.90 118.29,247.78 119.09,247.67 119.89,247.55 120.69,247.44 121.49,247.32 122.29,247.21 123.09,247.10 123.90,246.98 124.70,246.87 125.50,246.75 126.30,246.64 127.10,246.52 127.90,246.41 128.70,246.29 129.51,246.18 130.31,246.06 131.11,245.95 131.91,245.83 132.71,245.72 133.51,245.60 134.31,245.49 135.11,245.37 135.92,245.25 136.72,245.14 137.52,245.02 138.32,244.91 139.12,244.79 139.92,244.67 140.72,244.56 141.53,244.44 142.33,244.32 143.13,244.21 143.93,244.09 144.73,243.97 145.53,243.86 146.33,243.74 147.14,243.62 147.94,243.51 148.74,243.39 149.54,243.27 150.34,243.15 151.14,243.04 151.94,242.92 152.74,242.80 153.55,242.68 154.35,242.56 155.15,242.45 155.95,242.33 156.75,242.21 157.55,242.09 158.35,241.97 159.16,241.85 159.96,241.73 160.76,241.61 161.56,241.49 162.36,241.37 163.16,241.26 163.96,241.14 164.76,241.02 165.57,240.90 166.37,240.77 167.17,240.65 167.97,240.53 168.77,240.41 169.57,240.29 170.37,240.17 171.18,240.05 171.98,239.93 172.78,239.81 173.58,239.69 174.38,239.56 175.18,239.44 175.98,239.32 176.78,239.20 177.59,239.07 178.39,238.95 179.19,238.83 179.99,238.71 180.79,238.58 181.59,238.46 182.39,238.34 183.20,238.21 184.00,238.09 184.80,237.96 185.60,237.84 186.41,237.71 187.21,237.59 188.02,237.46 188.82,237.33 189.63,237.20 190.43,237.08 191.24,236.95 192.04,236.82 192.85,236.69 193.65,236.56 194.45,236.42 195.26,236.29 196.06,236.16 196.87,236.02 197.67,235.89 198.48,235.75 199.28,235.62 200.09,235.48 200.89,235.34 201.70,235.20 202.50,235.06 203.31,234.92 204.11,234.78 204.92,234.64 205.72,234.49 206.53,234.35 207.33,234.20 208.13,234.05 208.94,233.91 209.74,233.76 210.55,233.60 211.35,233.45 212.16,233.30 212.96,233.14 213.77,232.99 214.57,232.83 215.38,232.67 216.18,232.51 216.99,232.35 217.79,232.19 218.60,232.02 219.40,231.85 220.21,231.69 221.01,231.52 221.82,231.34 222.62,231.17 223.42,230.99 224.23,230.82 225.03,230.64 225.84,230.45 226.64,230.27 227.45,230.09 228.25,229.90 229.06,229.71 229.86,229.51 230.67,229.32 231.47,229.12 232.28,228.92 233.08,228.72 233.89,228.52 234.69,228.31 235.50,228.10 236.30,227.89 237.10,227.68 237.91,227.46 238.71,227.24 239.52,227.02 240.32,226.79 241.13,226.57 241.93,226.33 242.74,226.10 243.54,225.87 244.35,225.63 245.15,225.38 245.96,225.14 246.77,224.88 247.57,224.60 248.38,224.32 249.19,224.03 249.99,223.72 250.80,223.41 251.61,223.08 252.41,222.74 253.22,222.39 254.03,222.03 254.84,221.66 255.64,221.27 256.45,220.88 257.26,220.47 258.06,220.06 258.87,219.64 259.68,219.21 260.48,218.77 261.29,218.33 262.10,217.88 262.91,217.43 263.71,216.98 264.52,216.53 265.33,216.08 266.13,215.64 266.94,215.20 267.75,214.77 268.55,214.36 269.36,213.96 270.17,213.57 270.98,213.21 271.78,212.87 272.59,212.55 273.40,212.27 274.20,212.01 275.01,211.79 275.83,211.58 276.66,211.38 277.48,211.17 278.30,210.97 279.12,210.78 279.94,210.58 280.77,210.39 281.59,210.20 282.41,210.02 283.23,209.85 284.05,209.68 284.88,209.52 285.70,209.36 286.52,209.22 287.34,209.08 288.17,208.95 288.99,208.83 289.82,208.71 290.66,208.60 291.50,208.49 292.33,208.38 293.17,208.28 294.00,208.18 294.84,208.08 295.67,207.99 296.51,207.90 297.35,207.81 298.18,207.72 299.02,207.64 299.85,207.55 300.69,207.47 301.53,207.39 302.36,207.32 303.20,207.24 304.03,207.17 304.87,207.09 305.67,207.04 306.47,207.02 307.28,207.03 308.08,207.06 308.88,207.12 309.68,207.18 310.49,207.26 311.29,207.35 312.09,207.44 312.89,207.54 313.70,207.63 314.50,207.72 315.30,207.79 316.10,207.86 316.91,207.92 317.71,207.95 318.51,207.97 319.31,207.97 320.12,207.95 320.96,207.92 321.81,207.88 322.66,207.85 323.51,207.81 324.35,207.76 325.20,207.71 326.05,207.66 326.89,207.59 327.74,207.52 328.59,207.43 329.43,207.34 330.28,207.22 331.13,207.10 331.98,206.97 332.82,206.82 333.67,206.66 334.52,206.49 335.36,206.31 336.42,204.51 337.48,199.51 338.54,190.86 338.86,216.82 368.40,212.67 114.28,248.37" fill="#D95319" stroke="#000" stroke-width="0.5" stroke-linejoin="round"/>
<polygon points="121.29,257.47 122.09,257.35 122.90,257.23 123.70,257.11 124.50,256.99 125.31,256.87 126.11,256.75 126.92,256.63 127.72,256.52 128.53,256.40 129.33,256.28 130.13,256.16 130.94,256.04 131.74,255.92 132.55,255.80 133.35,255.67 134.15,255.55 134.96,255.43 135.76,255.31 136.57,255.19 137.37,255.07 138.18,254.95 138.98,254.83 139.78,254.70 140.59,254.58 141.39,254.46 142.20,254.34 143.00,254.21 143.80,254.09 144.61,253.97 145.41,253.84 146.22,253.72 147.02,253.60 147.83,253.47 148.63,253.35 149.43,253.22 150.24,253.10 151.04,252.97 151.85,252.85 152.65,252.72 153.46,252.60 154.26,252.47 155.06,252.34 155.87,252.22 156.67,252.09 157.48,251.96 158.28,251.83 159.08,251.70 159.89,251.58 160.69,251.45 161.50,251.32 162.30,251.19 163.11,251.06 163.91,250.93 164.71,250.80 165.52,250.66 166.32,250.53 167.13,250.40 167.93,250.27 168.73,250.14 169.54,250.00 170.34,249.87 171.15,249.73 171.95,249.60 172.76,249.46 173.56,249.33 174.36,249.19 175.17,249.05 175.97,248.92 176.78,248.78 177.58,248.64 178.38,248.50 179.19,248.36 179.99,248.22 180.80,248.08 181.60,247.94 182.41,247.79 183.21,247.65 184.01,247.51 184.82,247.36 185.62,247.22 186.42,247.07 187.23,246.92 188.03,246.78 188.83,246.63 189.63,246.47 190.44,246.32 191.24,246.17 192.04,246.02 192.84,245.86 193.65,245.71 194.45,245.55 195.25,245.39 196.05,245.23 196.86,245.07 197.66,244.91 198.46,244.75 199.26,244.58 200.07,244.42 200.87,244.25 201.68,244.09 202.49,243.92 203.29,243.75 204.10,243.58 204.91,243.40 205.71,243.23 206.52,243.05 207.33,242.88 208.14,242.70 208.94,242.52 209.75,242.34 210.56,242.16 211.36,241.97 212.17,241.78 212.98,241.60 213.78,241.41 214.59,241.22 215.40,241.02 216.21,240.83 217.01,240.63 217.82,240.43 218.63,240.23 219.43,240.03 220.24,239.83 221.05,239.62 221.85,239.41 222.66,239.20 223.47,238.99 224.28,238.78 225.08,238.56 225.89,238.35 226.70,238.13 227.50,237.90 228.31,237.68 229.12,237.45 229.92,237.23 230.74,236.99 231.55,236.75 232.36,236.51 233.17,236.26 233.98,236.01 234.79,235.76 235.61,235.50 236.42,235.24 237.23,234.98 238.04,234.71 238.85,234.45 239.67,234.19 240.48,233.92 241.29,233.66 242.10,233.41 242.91,233.16 243.72,232.91 244.54,232.67 245.34,232.44 246.14,232.21 246.94,231.99 247.75,231.76 248.55,231.54 249.35,231.32 250.15,231.10 250.96,230.88 251.76,230.66 252.56,230.45 253.36,230.24 254.17,230.02 254.97,229.81 255.77,229.60 256.57,229.38 257.38,229.17 258.18,228.96 258.98,228.75 259.78,228.53 260.59,228.31 261.39,228.09 262.19,227.86 262.99,227.62 263.80,227.39 264.60,227.15 265.40,226.91 266.20,226.67 267.01,226.43 267.81,226.20 268.61,225.97 269.41,225.75 270.22,225.54 271.02,225.33 271.82,225.13 272.62,224.95 273.43,224.78 274.23,224.63 275.03,224.49 275.86,224.36 276.68,224.22 277.51,224.09 278.33,223.96 279.16,223.84 279.99,223.71 280.81,223.59 281.64,223.47 282.46,223.35 283.29,223.23 284.12,223.12 284.94,223.03 285.77,222.95 286.59,222.88 287.42,222.82 288.24,222.77 289.07,222.74 289.90,222.71 290.72,222.68 291.55,222.67 292.37,222.66 293.20,222.65 294.03,222.64 294.85,222.64 295.68,222.64 296.50,222.63 297.33,222.63 298.16,222.63 298.98,222.62 299.81,222.61 300.63,222.60 301.45,222.59 302.27,222.59 303.09,222.58 303.91,222.59 304.73,222.59 305.55,222.60 306.37,222.61 307.19,222.62 308.01,222.63 308.83,222.65 309.65,222.66 310.48,222.68 311.30,222.70 312.12,222.72 312.94,222.74 313.76,222.77 314.58,222.79 315.40,222.81 316.22,222.84 317.04,222.86 317.86,222.89 318.68,222.92 319.50,222.94 320.33,222.97 321.16,223.00 321.99,223.04 322.82,223.08 323.66,223.12 324.49,223.17 325.32,223.21 326.15,223.26 326.98,223.31 327.81,223.37 328.64,223.42 329.47,223.47 330.30,223.52 331.12,223.59 331.94,223.67 332.76,223.77 333.58,223.88 334.40,223.99 335.23,224.10 336.05,224.21 336.87,224.31 337.69,224.40 338.51,224.47 339.33,224.54 340.15,224.59 340.97,224.63 341.79,224.65 342.61,224.66 343.43,224.66 344.25,224.64 345.07,224.61 345.89,224.57 346.71,224.51 347.53,224.44 348.35,224.36 349.18,224.27 350.00,224.16 351.05,223.56 352.11,221.81 353.17,218.41 353.49,224.87 375.41,221.79 121.29,257.49" fill="#0072BD" stroke="#000" stroke-width="0.5" stroke-linejoin="round"/>
<text x="254.6" y="293.2" text-anchor="middle" class="lb">Collection Efficiency (%)</text>
<text transform="translate(8.6,99.6) rotate(-90)" text-anchor="middle" class="lb">Fraction of Volume (a.u.)</text>
<rect x="459.50" y="4.70" width="332.00" height="255.80" fill="none" class="ax"/>
<line x1="487.17" y1="260.50" x2="487.17" y2="257.50" class="ax"/>
<line x1="487.17" y1="4.70" x2="487.17" y2="7.70" class="ax"/>
<line x1="514.83" y1="260.50" x2="514.83" y2="257.50" class="ax"/>
<line x1="514.83" y1="4.70" x2="514.83" y2="7.70" class="ax"/>
<line x1="542.50" y1="260.50" x2="542.50" y2="257.50" class="ax"/>
<line x1="542.50" y1="4.70" x2="542.50" y2="7.70" class="ax"/>
<line x1="570.17" y1="260.50" x2="570.17" y2="257.50" class="ax"/>
<line x1="570.17" y1="4.70" x2="570.17" y2="7.70" class="ax"/>
<line x1="597.83" y1="260.50" x2="597.83" y2="257.50" class="ax"/>
<line x1="597.83" y1="4.70" x2="597.83" y2="7.70" class="ax"/>
<line x1="625.50" y1="260.50" x2="625.50" y2="257.50" class="ax"/>
<line x1="625.50" y1="4.70" x2="625.50" y2="7.70" class="ax"/>
<line x1="653.17" y1="260.50" x2="653.17" y2="257.50" class="ax"/>
<line x1="653.17" y1="4.70" x2="653.17" y2="7.70" class="ax"/>
<line x1="680.83" y1="260.50" x2="680.83" y2="257.50" class="ax"/>
<line x1="680.83" y1="4.70" x2="680.83" y2="7.70" class="ax"/>
<line x1="708.50" y1="260.50" x2="708.50" y2="257.50" class="ax"/>
<line x1="708.50" y1="4.70" x2="708.50" y2="7.70" class="ax"/>
<line x1="736.17" y1="260.50" x2="736.17" y2="257.50" class="ax"/>
<line x1="736.17" y1="4.70" x2="736.17" y2="7.70" class="ax"/>
<line x1="763.83" y1="260.50" x2="763.83" y2="257.50" class="ax"/>
<line x1="763.83" y1="4.70" x2="763.83" y2="7.70" class="ax"/>
<text transform="translate(494.17,272.00) rotate(-45)" text-anchor="end" class="tr">250<tspan class="mu" dx="0.8">μ</tspan><tspan dx="0.6">m</tspan></text>
<text transform="translate(521.83,272.00) rotate(-45)" text-anchor="end" class="tr">500<tspan class="mu" dx="0.8">μ</tspan><tspan dx="0.6">m</tspan></text>
<text transform="translate(549.50,272.00) rotate(-45)" text-anchor="end" class="tr">750<tspan class="mu" dx="0.8">μ</tspan><tspan dx="0.6">m</tspan></text>
<text transform="translate(577.17,272.00) rotate(-45)" text-anchor="end" class="tr">1000<tspan class="mu" dx="0.8">μ</tspan><tspan dx="0.6">m</tspan></text>
<text transform="translate(604.83,272.00) rotate(-45)" text-anchor="end" class="tr">1250<tspan class="mu" dx="0.8">μ</tspan><tspan dx="0.6">m</tspan></text>
<text transform="translate(632.50,272.00) rotate(-45)" text-anchor="end" class="tr">1500<tspan class="mu" dx="0.8">μ</tspan><tspan dx="0.6">m</tspan></text>
<text transform="translate(660.17,272.00) rotate(-45)" text-anchor="end" class="tr">1750<tspan class="mu" dx="0.8">μ</tspan><tspan dx="0.6">m</tspan></text>
<text transform="translate(687.83,272.00) rotate(-45)" text-anchor="end" class="tr">2000<tspan class="mu" dx="0.8">μ</tspan><tspan dx="0.6">m</tspan></text>
<text transform="translate(715.50,272.00) rotate(-45)" text-anchor="end" class="tr">2500<tspan class="mu" dx="0.8">μ</tspan><tspan dx="0.6">m</tspan></text>
<text transform="translate(743.17,272.00) rotate(-45)" text-anchor="end" class="tr">3000<tspan class="mu" dx="0.8">μ</tspan><tspan dx="0.6">m</tspan></text>
<text transform="translate(770.83,272.00) rotate(-45)" text-anchor="end" class="tr">4000<tspan class="mu" dx="0.8">μ</tspan><tspan dx="0.6">m</tspan></text>
<text transform="translate(798.50,272.00) rotate(-45)" text-anchor="end" class="tr">5000<tspan class="mu" dx="0.8">μ</tspan><tspan dx="0.6">m</tspan></text>
<text x="455.50" y="265.00" text-anchor="end" class="tr">0</text>
<line x1="459.50" y1="223.96" x2="462.50" y2="223.96" class="ax"/>
<line x1="791.50" y1="223.96" x2="788.50" y2="223.96" class="ax"/>
<text x="455.50" y="228.46" text-anchor="end" class="tr">5</text>
<line x1="459.50" y1="187.41" x2="462.50" y2="187.41" class="ax"/>
<line x1="791.50" y1="187.41" x2="788.50" y2="187.41" class="ax"/>
<text x="455.50" y="191.91" text-anchor="end" class="tr">10</text>
<line x1="459.50" y1="150.87" x2="462.50" y2="150.87" class="ax"/>
<line x1="791.50" y1="150.87" x2="788.50" y2="150.87" class="ax"/>
<text x="455.50" y="155.37" text-anchor="end" class="tr">15</text>
<line x1="459.50" y1="114.33" x2="462.50" y2="114.33" class="ax"/>
<line x1="791.50" y1="114.33" x2="788.50" y2="114.33" class="ax"/>
<text x="455.50" y="118.83" text-anchor="end" class="tr">20</text>
<line x1="459.50" y1="77.79" x2="462.50" y2="77.79" class="ax"/>
<line x1="791.50" y1="77.79" x2="788.50" y2="77.79" class="ax"/>
<text x="455.50" y="82.29" text-anchor="end" class="tr">25</text>
<line x1="459.50" y1="41.24" x2="462.50" y2="41.24" class="ax"/>
<line x1="791.50" y1="41.24" x2="788.50" y2="41.24" class="ax"/>
<text x="455.50" y="45.74" text-anchor="end" class="tr">30</text>
<text x="455.50" y="9.20" text-anchor="end" class="tr">35</text>
<text transform="translate(439.5,129) rotate(-90)" text-anchor="middle" class="tr" style="font-size:10.7px">Percentage (%)</text>
<polyline points="487.17,85.09 514.83,191.80 542.50,259.04 570.17,258.31 597.83,257.80 625.50,256.77 653.17,255.31 680.83,254.80 708.50,253.26 736.17,251.22 763.83,249.10 791.50,249.17" fill="none" stroke="#0072BD" stroke-width="1.25"/><polygon points="487.17,82.79 489.27,85.09 487.17,87.39 485.07,85.09" fill="none" stroke="#0072BD" stroke-width="1.1" stroke-linejoin="round"/><polygon points="514.83,189.50 516.93,191.80 514.83,194.10 512.73,191.80" fill="none" stroke="#0072BD" stroke-width="1.1" stroke-linejoin="round"/><polygon points="542.50,256.74 544.60,259.04 542.50,261.34 540.40,259.04" fill="none" stroke="#0072BD" stroke-width="1.1" stroke-linejoin="round"/><polygon points="570.17,256.01 572.27,258.31 570.17,260.61 568.07,258.31" fill="none" stroke="#0072BD" stroke-width="1.1" stroke-linejoin="round"/><polygon points="597.83,255.50 599.93,257.80 597.83,260.10 595.73,257.80" fill="none" stroke="#0072BD" stroke-width="1.1" stroke-linejoin="round"/><polygon points="625.50,254.47 627.60,256.77 625.50,259.07 623.40,256.77" fill="none" stroke="#0072BD" stroke-width="1.1" stroke-linejoin="round"/><polygon points="653.17,253.01 655.27,255.31 653.17,257.61 651.07,255.31" fill="none" stroke="#0072BD" stroke-width="1.1" stroke-linejoin="round"/><polygon points="680.83,252.50 682.93,254.80 680.83,257.10 678.73,254.80" fill="none" stroke="#0072BD" stroke-width="1.1" stroke-linejoin="round"/><polygon points="708.50,250.96 710.60,253.26 708.50,255.56 706.40,253.26" fill="none" stroke="#0072BD" stroke-width="1.1" stroke-linejoin="round"/><polygon points="736.17,248.92 738.27,251.22 736.17,253.52 734.07,251.22" fill="none" stroke="#0072BD" stroke-width="1.1" stroke-linejoin="round"/><polygon points="763.83,246.80 765.93,249.10 763.83,251.40 761.73,249.10" fill="none" stroke="#0072BD" stroke-width="1.1" stroke-linejoin="round"/><polygon points="791.50,246.87 793.60,249.17 791.50,251.47 789.40,249.17" fill="none" stroke="#0072BD" stroke-width="1.1" stroke-linejoin="round"/>
<polyline points="487.17,43.44 514.83,155.26 542.50,206.05 570.17,226.00 597.83,238.72 625.50,241.72 653.17,240.69 680.83,240.18 708.50,238.72 736.17,236.24 763.83,233.68 791.50,233.17" fill="none" stroke="#D95319" stroke-width="1.25"/><polygon points="487.17,41.14 489.27,43.44 487.17,45.74 485.07,43.44" fill="none" stroke="#D95319" stroke-width="1.1" stroke-linejoin="round"/><polygon points="514.83,152.96 516.93,155.26 514.83,157.56 512.73,155.26" fill="none" stroke="#D95319" stroke-width="1.1" stroke-linejoin="round"/><polygon points="542.50,203.75 544.60,206.05 542.50,208.35 540.40,206.05" fill="none" stroke="#D95319" stroke-width="1.1" stroke-linejoin="round"/><polygon points="570.17,223.70 572.27,226.00 570.17,228.30 568.07,226.00" fill="none" stroke="#D95319" stroke-width="1.1" stroke-linejoin="round"/><polygon points="597.83,236.42 599.93,238.72 597.83,241.02 595.73,238.72" fill="none" stroke="#D95319" stroke-width="1.1" stroke-linejoin="round"/><polygon points="625.50,239.42 627.60,241.72 625.50,244.02 623.40,241.72" fill="none" stroke="#D95319" stroke-width="1.1" stroke-linejoin="round"/><polygon points="653.17,238.39 655.27,240.69 653.17,242.99 651.07,240.69" fill="none" stroke="#D95319" stroke-width="1.1" stroke-linejoin="round"/><polygon points="680.83,237.88 682.93,240.18 680.83,242.48 678.73,240.18" fill="none" stroke="#D95319" stroke-width="1.1" stroke-linejoin="round"/><polygon points="708.50,236.42 710.60,238.72 708.50,241.02 706.40,238.72" fill="none" stroke="#D95319" stroke-width="1.1" stroke-linejoin="round"/><polygon points="736.17,233.94 738.27,236.24 736.17,238.54 734.07,236.24" fill="none" stroke="#D95319" stroke-width="1.1" stroke-linejoin="round"/><polygon points="763.83,231.38 765.93,233.68 763.83,235.98 761.73,233.68" fill="none" stroke="#D95319" stroke-width="1.1" stroke-linejoin="round"/><polygon points="791.50,230.87 793.60,233.17 791.50,235.47 789.40,233.17" fill="none" stroke="#D95319" stroke-width="1.1" stroke-linejoin="round"/>
<polyline points="487.17,5.43 514.83,127.48 542.50,174.99 570.17,199.99 597.83,215.19 625.50,219.21 653.17,221.69 680.83,222.20 708.50,221.18 736.17,219.72 763.83,216.72 791.50,212.70" fill="none" stroke="#EDB120" stroke-width="1.25"/><polygon points="487.17,3.13 489.27,5.43 487.17,7.73 485.07,5.43" fill="none" stroke="#EDB120" stroke-width="1.1" stroke-linejoin="round"/><polygon points="514.83,125.18 516.93,127.48 514.83,129.78 512.73,127.48" fill="none" stroke="#EDB120" stroke-width="1.1" stroke-linejoin="round"/><polygon points="542.50,172.69 544.60,174.99 542.50,177.29 540.40,174.99" fill="none" stroke="#EDB120" stroke-width="1.1" stroke-linejoin="round"/><polygon points="570.17,197.69 572.27,199.99 570.17,202.29 568.07,199.99" fill="none" stroke="#EDB120" stroke-width="1.1" stroke-linejoin="round"/><polygon points="597.83,212.89 599.93,215.19 597.83,217.49 595.73,215.19" fill="none" stroke="#EDB120" stroke-width="1.1" stroke-linejoin="round"/><polygon points="625.50,216.91 627.60,219.21 625.50,221.51 623.40,219.21" fill="none" stroke="#EDB120" stroke-width="1.1" stroke-linejoin="round"/><polygon points="653.17,219.39 655.27,221.69 653.17,223.99 651.07,221.69" fill="none" stroke="#EDB120" stroke-width="1.1" stroke-linejoin="round"/><polygon points="680.83,219.90 682.93,222.20 680.83,224.50 678.73,222.20" fill="none" stroke="#EDB120" stroke-width="1.1" stroke-linejoin="round"/><polygon points="708.50,218.88 710.60,221.18 708.50,223.48 706.40,221.18" fill="none" stroke="#EDB120" stroke-width="1.1" stroke-linejoin="round"/><polygon points="736.17,217.42 738.27,219.72 736.17,222.02 734.07,219.72" fill="none" stroke="#EDB120" stroke-width="1.1" stroke-linejoin="round"/><polygon points="763.83,214.42 765.93,216.72 763.83,219.02 761.73,216.72" fill="none" stroke="#EDB120" stroke-width="1.1" stroke-linejoin="round"/><polygon points="791.50,210.40 793.60,212.70 791.50,215.00 789.40,212.70" fill="none" stroke="#EDB120" stroke-width="1.1" stroke-linejoin="round"/>
<rect x="733.5" y="9.5" width="53" height="38.5" fill="#fff" stroke="#8a8a8a" stroke-width="0.8"/>
<line x1="735" y1="16.50" x2="752.5" y2="16.50" stroke="#0072BD" stroke-width="1.5"/>
<polygon points="743.70,14.20 745.70,16.50 743.70,18.80 741.70,16.50" fill="none" stroke="#0072BD" stroke-width="1.3"/>
<text x="754" y="19.40" class="tr" style="font-size:9.6px">FWHM</text>
<line x1="735" y1="28.60" x2="752.5" y2="28.60" stroke="#D95319" stroke-width="1.5"/>
<polygon points="743.70,26.30 745.70,28.60 743.70,30.90 741.70,28.60" fill="none" stroke="#D95319" stroke-width="1.3"/>
<text x="754" y="31.50" class="tr" style="font-size:9.6px">FWQM</text>
<line x1="735" y1="40.70" x2="752.5" y2="40.70" stroke="#EDB120" stroke-width="1.5"/>
<polygon points="743.70,38.40 745.70,40.70 743.70,43.00 741.70,40.70" fill="none" stroke="#EDB120" stroke-width="1.3"/>
<text x="754" y="43.60" class="tr" style="font-size:9.6px">FWOM</text>
</svg>
</body></html>
